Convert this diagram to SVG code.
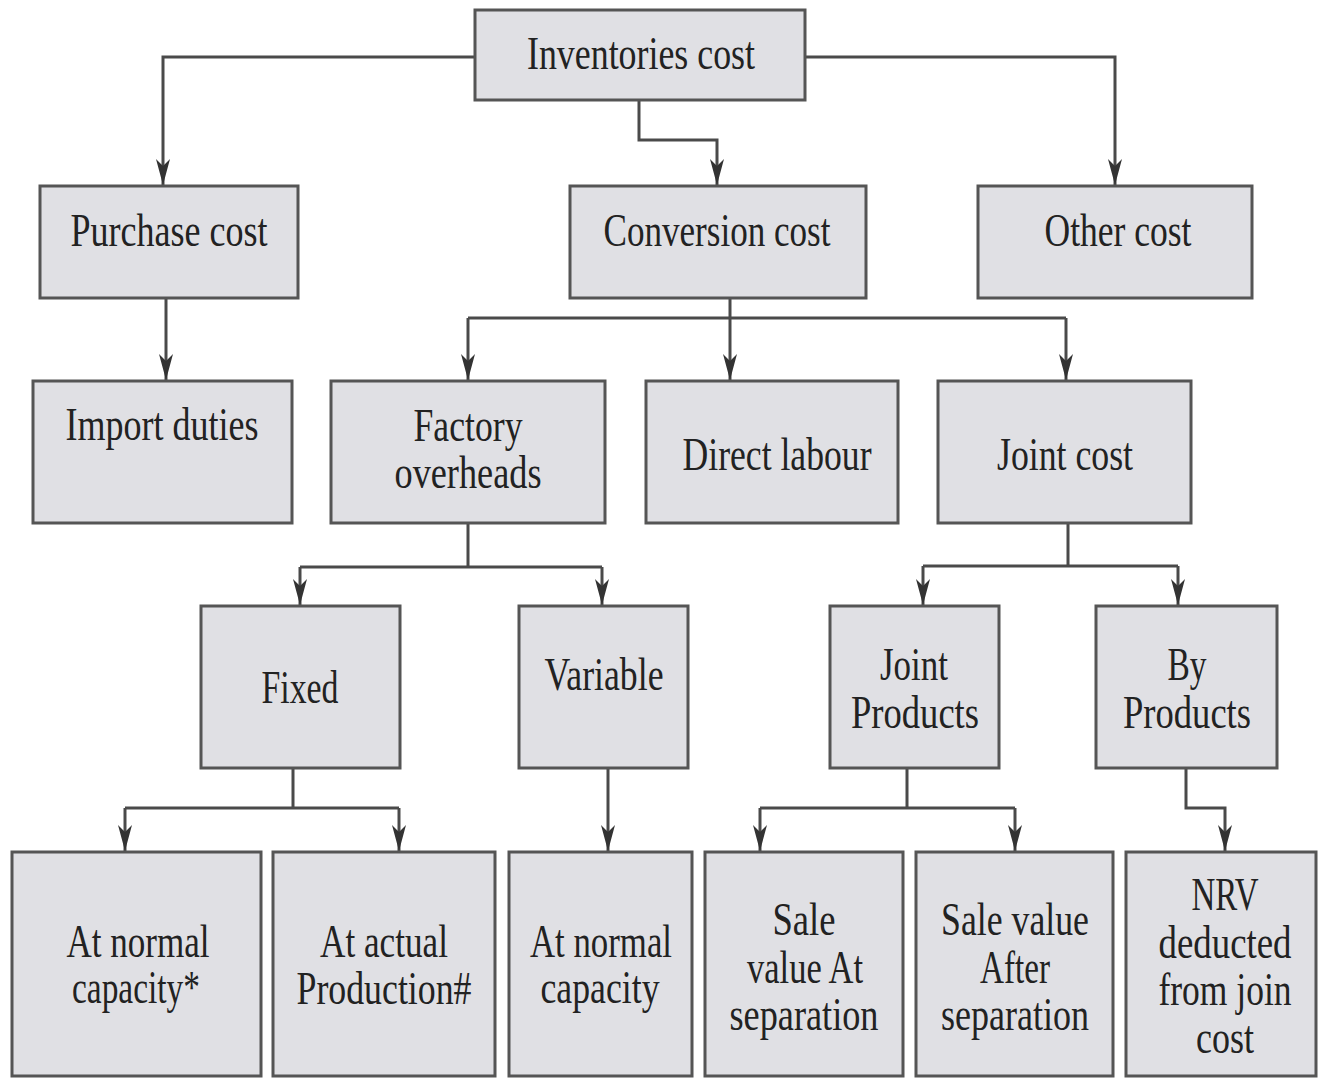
<svg xmlns="http://www.w3.org/2000/svg" width="1318" height="1078" viewBox="0 0 1318 1078">
<style>
  .box { fill: #e0e0e4; stroke: #555; stroke-width: 3; }
  .t { font-family: "Liberation Serif", "Times New Roman", serif; font-size: 46px; fill: #222; text-anchor: middle; }
  .c { fill: none; stroke: #4a4a4a; stroke-width: 3; }
</style>
<defs>
  <marker id="arr" markerUnits="userSpaceOnUse" markerWidth="26" markerHeight="14" viewBox="0 0 26 14" refX="26" refY="7" orient="auto">
    <path d="M0,0 L26,7 L0,14 L7,7 z" fill="#333"/>
  </marker>
</defs>
<rect width="1318" height="1078" fill="#ffffff"/>

<g id="connectors">
  <path class="c" d="M475,57 H163 V185" marker-end="url(#arr)"/>
  <path class="c" d="M805,57 H1115 V185" marker-end="url(#arr)"/>
  <path class="c" d="M639,100 V140 H717 V185" marker-end="url(#arr)"/>
  <path class="c" d="M166,298 V380" marker-end="url(#arr)"/>
  <path class="c" d="M730,298 V380" marker-end="url(#arr)"/>
  <path class="c" d="M468,318 H1066"/>
  <path class="c" d="M468,318 V380" marker-end="url(#arr)"/>
  <path class="c" d="M1066,318 V380" marker-end="url(#arr)"/>
  <path class="c" d="M468,523 V567 M300,567 H602"/>
  <path class="c" d="M300,567 V605" marker-end="url(#arr)"/>
  <path class="c" d="M602,567 V605" marker-end="url(#arr)"/>
  <path class="c" d="M1068,523 V566 M923,566 H1178"/>
  <path class="c" d="M923,566 V605" marker-end="url(#arr)"/>
  <path class="c" d="M1178,566 V605" marker-end="url(#arr)"/>
  <path class="c" d="M293,768 V808 M125,808 H399"/>
  <path class="c" d="M125,808 V851" marker-end="url(#arr)"/>
  <path class="c" d="M399,808 V851" marker-end="url(#arr)"/>
  <path class="c" d="M608,768 V851" marker-end="url(#arr)"/>
  <path class="c" d="M907,768 V808 M760,808 H1015"/>
  <path class="c" d="M760,808 V851" marker-end="url(#arr)"/>
  <path class="c" d="M1015,808 V851" marker-end="url(#arr)"/>
  <path class="c" d="M1186,768 V808 H1225 V851" marker-end="url(#arr)"/>
</g>

<g id="inventories-cost">
  <rect class="box" x="475" y="10" width="330" height="90"/>
  <text class="t" x="641" y="69" textLength="228" lengthAdjust="spacingAndGlyphs">Inventories cost</text>
</g>
<g id="purchase-cost">
  <rect class="box" x="40" y="186" width="258" height="112"/>
  <text class="t" x="169" y="246" textLength="197" lengthAdjust="spacingAndGlyphs">Purchase cost</text>
</g>
<g id="conversion-cost">
  <rect class="box" x="570" y="186" width="296" height="112"/>
  <text class="t" x="717" y="246" textLength="227" lengthAdjust="spacingAndGlyphs">Conversion cost</text>
</g>
<g id="other-cost">
  <rect class="box" x="978" y="186" width="274" height="112"/>
  <text class="t" x="1118" y="246" textLength="147" lengthAdjust="spacingAndGlyphs">Other cost</text>
</g>
<g id="import-duties">
  <rect class="box" x="33" y="381" width="259" height="142"/>
  <text class="t" x="162" y="440" textLength="193" lengthAdjust="spacingAndGlyphs">Import duties</text>
</g>
<g id="factory-overheads">
  <rect class="box" x="331" y="381" width="274" height="142"/>
  <text class="t" x="468" y="441" textLength="109" lengthAdjust="spacingAndGlyphs">Factory</text>
  <text class="t" x="468" y="488" textLength="147" lengthAdjust="spacingAndGlyphs">overheads</text>
</g>
<g id="direct-labour">
  <rect class="box" x="646" y="381" width="252" height="142"/>
  <text class="t" x="777" y="470" textLength="189" lengthAdjust="spacingAndGlyphs">Direct labour</text>
</g>
<g id="joint-cost">
  <rect class="box" x="938" y="381" width="253" height="142"/>
  <text class="t" x="1065" y="470" textLength="136" lengthAdjust="spacingAndGlyphs">Joint cost</text>
</g>
<g id="fixed">
  <rect class="box" x="201" y="606" width="199" height="162"/>
  <text class="t" x="300" y="703" textLength="77" lengthAdjust="spacingAndGlyphs">Fixed</text>
</g>
<g id="variable">
  <rect class="box" x="519" y="606" width="169" height="162"/>
  <text class="t" x="604" y="690" textLength="119" lengthAdjust="spacingAndGlyphs">Variable</text>
</g>
<g id="joint-products">
  <rect class="box" x="830" y="606" width="169" height="162"/>
  <text class="t" x="914" y="680" textLength="68" lengthAdjust="spacingAndGlyphs">Joint</text>
  <text class="t" x="915" y="728" textLength="128" lengthAdjust="spacingAndGlyphs">Products</text>
</g>
<g id="by-products">
  <rect class="box" x="1096" y="606" width="181" height="162"/>
  <text class="t" x="1187" y="680" textLength="39" lengthAdjust="spacingAndGlyphs">By</text>
  <text class="t" x="1187" y="728" textLength="128" lengthAdjust="spacingAndGlyphs">Products</text>
</g>
<g id="fixed-normal">
  <rect class="box" x="12" y="852" width="249" height="224"/>
  <text class="t" x="138" y="957" textLength="143" lengthAdjust="spacingAndGlyphs">At normal</text>
  <text class="t" x="136" y="1003" textLength="128" lengthAdjust="spacingAndGlyphs">capacity*</text>
</g>
<g id="fixed-actual">
  <rect class="box" x="273" y="852" width="222" height="224"/>
  <text class="t" x="384" y="957" textLength="128" lengthAdjust="spacingAndGlyphs">At actual</text>
  <text class="t" x="384" y="1004" textLength="175" lengthAdjust="spacingAndGlyphs">Production#</text>
</g>
<g id="variable-normal">
  <rect class="box" x="509" y="852" width="183" height="224"/>
  <text class="t" x="601" y="957" textLength="142" lengthAdjust="spacingAndGlyphs">At normal</text>
  <text class="t" x="600" y="1003" textLength="119" lengthAdjust="spacingAndGlyphs">capacity</text>
</g>
<g id="sale-at-separation">
  <rect class="box" x="705" y="852" width="198" height="224"/>
  <text class="t" x="804" y="935" textLength="63" lengthAdjust="spacingAndGlyphs">Sale</text>
  <text class="t" x="805" y="983" textLength="116" lengthAdjust="spacingAndGlyphs">value At</text>
  <text class="t" x="804" y="1030" textLength="149" lengthAdjust="spacingAndGlyphs">separation</text>
</g>
<g id="sale-after-separation">
  <rect class="box" x="916" y="852" width="197" height="224"/>
  <text class="t" x="1015" y="935" textLength="148" lengthAdjust="spacingAndGlyphs">Sale value</text>
  <text class="t" x="1015" y="983" textLength="70" lengthAdjust="spacingAndGlyphs">After</text>
  <text class="t" x="1015" y="1030" textLength="148" lengthAdjust="spacingAndGlyphs">separation</text>
</g>
<g id="nrv">
  <rect class="box" x="1126" y="852" width="190" height="224"/>
  <text class="t" x="1225" y="910" textLength="67" lengthAdjust="spacingAndGlyphs">NRV</text>
  <text class="t" x="1225" y="958" textLength="133" lengthAdjust="spacingAndGlyphs">deducted</text>
  <text class="t" x="1225" y="1005" textLength="133" lengthAdjust="spacingAndGlyphs">from join</text>
  <text class="t" x="1225" y="1053" textLength="58" lengthAdjust="spacingAndGlyphs">cost</text>
</g>
</svg>
